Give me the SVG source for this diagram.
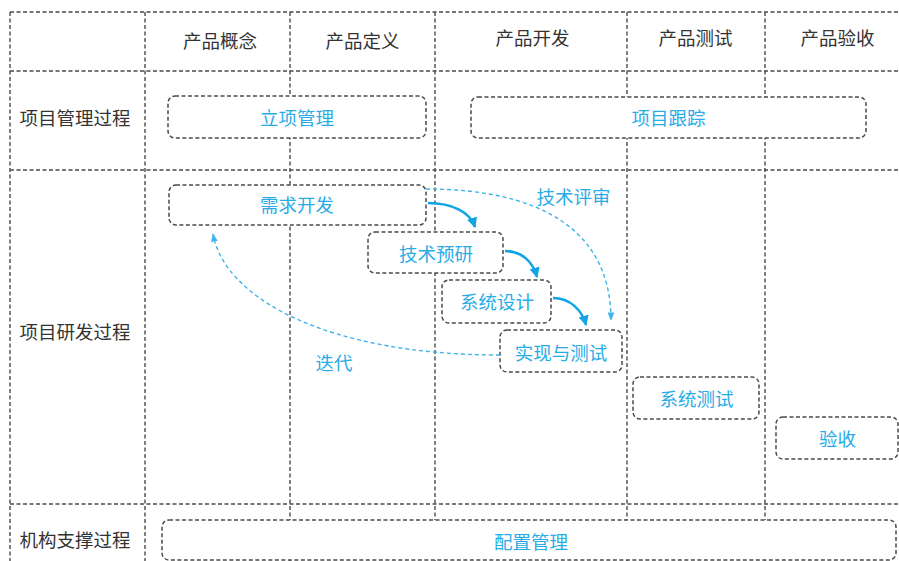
<svg xmlns="http://www.w3.org/2000/svg" width="899" height="561" viewBox="0 0 899 561">
<defs>
<style>
.grid{stroke:#4a4a4a;stroke-width:1.4;stroke-dasharray:4 2.5;fill:none}
.box{fill:#fff;stroke:#4a4a4a;stroke-width:1.5;stroke-dasharray:4 2.5}
.hd{font-family:"Noto Sans CJK SC","Noto Sans",sans-serif;font-size:18.5px;fill:#333;text-anchor:middle;dominant-baseline:central}
.lb{font-family:"Noto Sans CJK SC","Noto Sans",sans-serif;font-size:18.5px;fill:#29ace6;text-anchor:middle;dominant-baseline:central}
.solid{fill:none;stroke:#12a5e6;stroke-width:2.6}
.dash{fill:none;stroke:#3db4ea;stroke-width:1.4;stroke-dasharray:4 3}
</style>
<marker id="ah" viewBox="0 0 10 10" refX="9" refY="5" markerWidth="4" markerHeight="4" orient="auto" markerUnits="strokeWidth">
<path d="M0,0 L10,5 L0,10 z" fill="#12a5e6"/>
</marker>
<marker id="ad" viewBox="0 0 10 10" refX="9" refY="5" markerWidth="6" markerHeight="6" orient="auto" markerUnits="strokeWidth">
<path d="M0,1 L10,5 L0,9 z" fill="#3db4ea"/>
</marker>
</defs>
<rect width="899" height="561" fill="#fff"/>
<g id="grid">
<line class="grid" x1="10" y1="12" x2="899" y2="12"/>
<line class="grid" x1="10" y1="71" x2="899" y2="71"/>
<line class="grid" x1="10" y1="170" x2="899" y2="170"/>
<line class="grid" x1="10" y1="504" x2="899" y2="504"/>
<line class="grid" x1="10" y1="12" x2="10" y2="561"/>
<line class="grid" x1="145" y1="12" x2="145" y2="561"/>
<line class="grid" x1="290" y1="12" x2="290" y2="561"/>
<line class="grid" x1="435" y1="12" x2="435" y2="561"/>
<line class="grid" x1="627" y1="12" x2="627" y2="561"/>
<line class="grid" x1="765" y1="12" x2="765" y2="561"/>
</g>
<g id="headers">
<text class="hd" x="220" y="40">产品概念</text>
<text class="hd" x="362.5" y="40">产品定义</text>
<text class="hd" x="532.5" y="37">产品开发</text>
<text class="hd" x="695.5" y="37">产品测试</text>
<text class="hd" x="837.5" y="37">产品验收</text>
<text class="hd" x="75" y="117">项目管理过程</text>
<text class="hd" x="75" y="331">项目研发过程</text>
<text class="hd" x="75" y="539">机构支撑过程</text>
</g>
<g id="n-lixiang"><rect class="box" x="168" y="96" width="258" height="42" rx="7"/><text class="lb" x="297" y="117">立项管理</text></g>
<g id="n-genzong"><rect class="box" x="471" y="97" width="395" height="41" rx="7"/><text class="lb" x="668.5" y="117">项目跟踪</text></g>
<g id="n-xuqiu"><rect class="box" x="169" y="185" width="257" height="40" rx="7"/><text class="lb" x="297" y="204">需求开发</text></g>
<g id="n-yuyan"><rect class="box" x="368" y="232" width="135" height="41" rx="7"/><text class="lb" x="436" y="253">技术预研</text></g>
<g id="n-sheji"><rect class="box" x="442" y="280" width="109" height="43" rx="7"/><text class="lb" x="497" y="301">系统设计</text></g>
<g id="n-shixian"><rect class="box" x="500" y="330" width="122" height="42" rx="7"/><text class="lb" x="561" y="352">实现与测试</text></g>
<g id="n-ceshi"><rect class="box" x="633" y="377" width="126" height="42" rx="7"/><text class="lb" x="696.5" y="398">系统测试</text></g>
<g id="n-yanshou"><rect class="box" x="776" y="417" width="122" height="42" rx="7"/><text class="lb" x="837.5" y="438">验收</text></g>
<g id="n-peizhi"><rect class="box" x="162" y="520" width="734" height="40" rx="7"/><text class="lb" x="531" y="541">配置管理</text></g>
<g id="connectors">
<path class="solid" d="M428,203 C452,203 470,212 475,227" marker-end="url(#ah)"/>
<path class="solid" d="M505,251 C522,251 533,262 537,277" marker-end="url(#ah)"/>
<path class="solid" d="M553,298 C570,298 582,310 586,325" marker-end="url(#ah)"/>
<path class="dash" d="M426,189 C540,189 611,230 611,320" marker-end="url(#ad)"/>
<path class="dash" d="M500,355 C330,355 225,300 213,234" marker-end="url(#ad)"/>
<text class="lb" x="573.5" y="196">技术评审</text>
<text class="lb" x="334" y="362">迭代</text>
</g>
</svg>
